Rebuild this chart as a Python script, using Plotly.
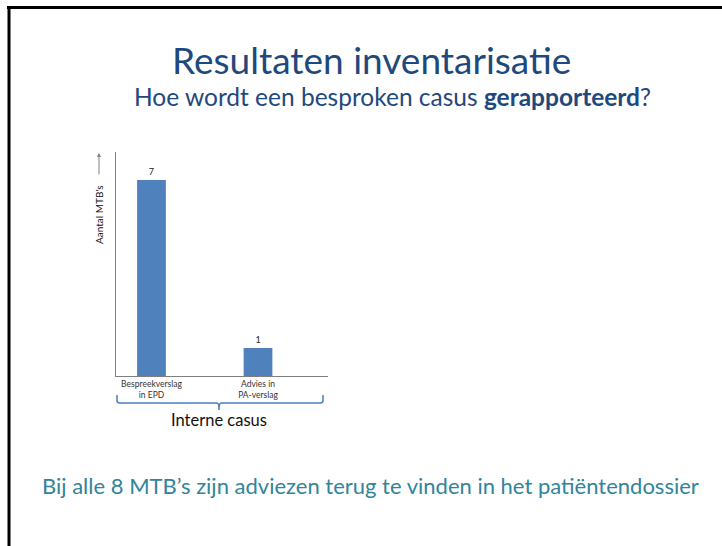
import plotly.graph_objects as go

# ---- data ----
categories = ["Bespreekverslag<br>in EPD", "Advies in<br>PA-verslag"]
values = [7, 1]
group_label = "Interne casus"
y_title = "Aantal MTB's"
title_text = "Resultaten inventarisatie"
subtitle_text = "Hoe wordt een besproken casus <b>gerapporteerd</b>?"
footer_text = "Bij alle 8 MTB’s zijn adviezen terug te vinden in het patiëntendossier"

W, H = 722, 546
L, R, T, B = 116, 328, 152, 376  # plot area in pixels

def px(x):
    return (x - L) / (R - L)

def py(y):
    return (B - y) / (B - T)

FONT = "Lato, 'Open Sans', sans-serif"
BAR = "#4F81BD"

fig = go.Figure()
fig.add_trace(go.Bar(
    x=[0, 1], y=values, width=0.27, marker=dict(color=BAR, line=dict(width=0)),
    text=[str(v) for v in values], textposition="outside",
    textfont=dict(size=9, color="#222222", family=FONT), cliponaxis=False,
    hoverinfo="skip",
))

fig.update_layout(
    width=W, height=H,
    margin=dict(l=L, r=W - R, t=T, b=H - B, pad=0),
    paper_bgcolor="white", plot_bgcolor="white",
    showlegend=False,
    font=dict(family=FONT),
    xaxis=dict(range=[-0.333, 1.657], tickvals=[0, 1], ticktext=categories,
               showgrid=False, zeroline=False, showline=True, linecolor="#7F7F7F",
               linewidth=1, ticks="", tickfont=dict(size=8.5, color="#333333", family=FONT)),
    yaxis=dict(range=[0, 8], showgrid=False, zeroline=False, showline=True,
               linecolor="#7F7F7F", linewidth=1, showticklabels=False, ticks=""),
)

shapes = []
# slide border (top and left)
shapes.append(dict(type="line", xref="paper", yref="paper", x0=px(7), x1=px(722), y0=py(7.5), y1=py(7.5),
                   line=dict(color="black", width=3)))
shapes.append(dict(type="line", xref="paper", yref="paper", x0=px(9), x1=px(9), y0=py(6), y1=py(546),
                   line=dict(color="black", width=3)))
# brace under the categories
bl, br, bt, bh, bc, bd = 117, 323, 395, 403, 219, 410
path = (f"M {px(bl)} {py(bt)} L {px(bl)} {py(bh-2)} Q {px(bl)} {py(bh)} {px(bl+3)} {py(bh)} "
        f"L {px(bc-2)} {py(bh)} Q {px(bc)} {py(bh)} {px(bc)} {py(bd)} "
        f"Q {px(bc)} {py(bh)} {px(bc+2)} {py(bh)} "
        f"L {px(br-3)} {py(bh)} Q {px(br)} {py(bh)} {px(br)} {py(bh-2)} L {px(br)} {py(bt)}")
shapes.append(dict(type="path", xref="paper", yref="paper", path=path,
                   line=dict(color="#4A7EBB", width=1.5)))
fig.update_layout(shapes=shapes)

ann = []
ann.append(dict(text=title_text, xref="paper", yref="paper", x=px(371.5), y=py(59), showarrow=False,
                xanchor="center", yanchor="middle", font=dict(size=37, color="#1F497D", family=FONT)))
ann.append(dict(text=subtitle_text, xref="paper", yref="paper", x=px(392), y=py(96), showarrow=False,
                xanchor="center", yanchor="middle", font=dict(size=24.5, color="#1F497D", family=FONT)))
ann.append(dict(text=footer_text, xref="paper", yref="paper", x=px(370), y=py(485), showarrow=False,
                xanchor="center", yanchor="middle", font=dict(size=22, color="#31849B", family=FONT)))
ann.append(dict(text=group_label, xref="paper", yref="paper", x=px(219), y=py(420), showarrow=False,
                xanchor="center", yanchor="middle", font=dict(size=16.5, color="#111111", family=FONT)))
ann.append(dict(text=y_title, xref="paper", yref="paper", x=px(99), y=py(215), showarrow=False,
                textangle=-90, xanchor="center", yanchor="middle",
                font=dict(size=10, color="#111111", family=FONT)))
# arrow next to axis title
ann.append(dict(text="", xref="paper", yref="paper", x=px(99), y=py(153), ax=0, ay=23,
                showarrow=True, arrowhead=2, arrowsize=0.8, arrowwidth=1, arrowcolor="#808080"))
fig.update_layout(annotations=ann)

fig.write_html("out.html", config={"displayModeBar": False},
               post_script="document.body.style.margin='0';")
